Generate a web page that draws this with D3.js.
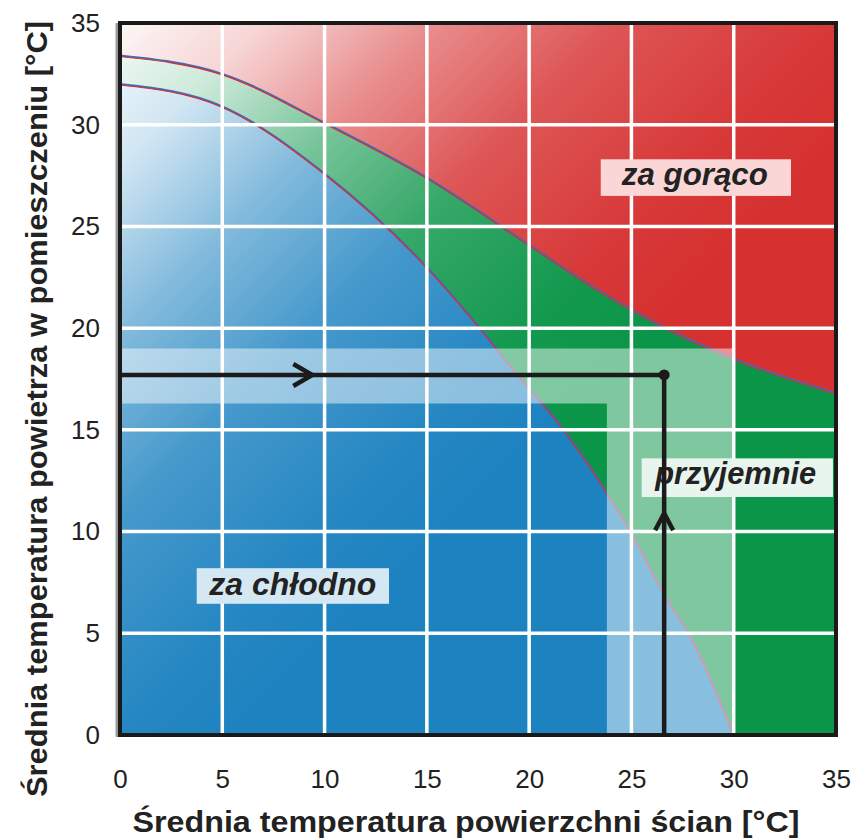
<!DOCTYPE html>
<html>
<head>
<meta charset="utf-8">
<script src="https://cdn.jsdelivr.net/npm/d3@7"></script>
<style>
body{margin:0;background:#fff;}
text{font-family:"Liberation Sans Narrow","Arial Narrow","Liberation Sans",Arial,sans-serif;}
</style>
</head>
<body>
<svg id="canvas" width="852" height="838"></svg>
<script>
// axis ticks
const xTicks=[0,5,10,15,20,25,30,35];
const yTicks=[0,5,10,15,20,25,30,35];
// boundary hot / comfortable  (wall temp, air temp)
const upperX=[0,5,10,15,20,23.5,26.9,30,35];
const upperY=[33.4,32.5,30.1,27.4,24.1,21.8,19.9,18.5,16.8];
// boundary comfortable / cold
const lowerX=[0,5,10,15,17.6,19.2,21.7,24.9,26.8,27.8,30];
const lowerY=[32.0,30.9,27.6,23.0,20.0,18.0,15.0,10.1,6.6,5.0,0];
// highlighted band (L shape)
const bandAir=[16.3,19.0];
const bandWall=[23.8,30];
// example reading
const pointWall=26.6, pointAir=17.7;
const zoneNames=["za gorąco","przyjemnie","za chłodno"];

const canvas=d3.select("#canvas");
let x=d3.scaleLinear().domain([0,35]).range([120,836]);
let y=d3.scaleLinear().domain([0,35]).range([735,23]);

let upper=upperX.map((d,i)=>[d,upperY[i]]);
let lower=lowerX.map((d,i)=>[d,lowerY[i]]);

let defs=canvas.append("defs");
let grad=defs.append("linearGradient").attr("id","fade").attr("x1",0).attr("y1",0).attr("x2",1).attr("y2",1);
[[0,0.96],[0.1,0.8],[0.22,0.45],[0.35,0.18],[0.5,0.04],[0.6,0]].forEach(s=>{
  grad.append("stop").attr("offset",s[0]).attr("stop-color","#fff").attr("stop-opacity",s[1]);
});

let plot=canvas.append("g");
// red background = too hot
plot.append("rect").attr("x",x(0)).attr("y",y(35)).attr("width",x(35)-x(0)).attr("height",y(0)-y(35)).attr("fill","#d63030");
let area=d3.area().x(d=>x(d[0])).y0(y(0)).y1(d=>y(d[1])).curve(d3.curveMonotoneX);
plot.append("path").datum(upper).attr("d",area).attr("fill","#0a9548");
plot.append("path").datum(lower).attr("d",area).attr("fill","#1c82c0");

plot.append("rect").attr("x",x(0)).attr("y",y(35)).attr("width",x(35)-x(0)).attr("height",y(0)-y(35)).attr("fill","url(#fade)");

let line=d3.line().x(d=>x(d[0])).y(d=>y(d[1])).curve(d3.curveMonotoneX);
[upper,lower].forEach(c=>{
  plot.append("path").datum(c).attr("d",line).attr("fill","none").attr("stroke","#3a6ec0").attr("stroke-width",2);
  plot.append("path").datum(c).attr("d",line).attr("fill","none").attr("stroke","#e02a2a").attr("stroke-width",1.1).attr("transform","translate(0,1)");
});

let band=[[0,bandAir[1]],[bandWall[1],bandAir[1]],[bandWall[1],0],[bandWall[0],0],[bandWall[0],bandAir[0]],[0,bandAir[0]]];
plot.append("path").attr("d",d3.line().x(d=>x(d[0])).y(d=>y(d[1]))(band)+"Z").attr("fill","#fff").attr("fill-opacity",0.48);

// grid
plot.selectAll(".gx").data(xTicks.slice(1,-1)).enter().append("line").attr("x1",d=>x(d)).attr("x2",d=>x(d)).attr("y1",y(35)).attr("y2",y(0)).attr("stroke","#fff").attr("stroke-width",3.5);
plot.selectAll(".gy").data(yTicks.slice(1,-1)).enter().append("line").attr("y1",d=>y(d)).attr("y2",d=>y(d)).attr("x1",x(0)).attr("x2",x(35)).attr("stroke","#fff").attr("stroke-width",3.5);

// zone labels
let labels=[
  {t:zoneNames[0],x0:23.5,x1:32.8,y0:26.5,y1:28.3,tx:28.1,base:185,len:146,fill:"#fad6d6"},
  {t:zoneNames[1],x0:25.5,x1:34.85,y0:11.7,y1:13.6,tx:30.1,base:484,len:161,fill:"#e8f5ee"},
  {t:zoneNames[2],x0:3.75,x1:13.15,y0:6.45,y1:8.2,tx:8.45,base:595,len:167,fill:"#d4e8f3"}
];
labels.forEach(l=>{
  plot.append("rect").attr("x",x(l.x0)).attr("y",y(l.y1)).attr("width",x(l.x1)-x(l.x0)).attr("height",y(l.y0)-y(l.y1)).attr("fill",l.fill);
  plot.append("text").attr("x",x(l.tx)).attr("y",l.base).attr("text-anchor","middle")
    .style("font-family","'Liberation Sans',Arial,sans-serif").style("font-weight","bold").style("font-style","italic").style("font-size","32px")
    .attr("fill","#222").attr("textLength",l.len).attr("lengthAdjust","spacingAndGlyphs").text(l.t);
});

// reading lines
let ink="#1c1a1a";
plot.append("path").attr("d",`M${x(0)},${y(pointAir)}H${x(pointWall)}V${y(0)+2}`).attr("fill","none").attr("stroke",ink).attr("stroke-width",4.5);
plot.append("circle").attr("cx",x(pointWall)).attr("cy",y(pointAir)).attr("r",5.5).attr("fill",ink);
let ax=x(9.4), ay=y(10.9);
plot.append("path").attr("d",`M${ax-19},${y(pointAir)-11}L${ax},${y(pointAir)}L${ax-19},${y(pointAir)+11}`).attr("fill","none").attr("stroke",ink).attr("stroke-width",4.5);
plot.append("path").attr("d",`M${x(pointWall)-9},${ay+17}L${x(pointWall)},${ay}L${x(pointWall)+9},${ay+17}`).attr("fill","none").attr("stroke",ink).attr("stroke-width",4.5);

// frame
canvas.append("line").attr("x1",117).attr("x2",117).attr("y1",y(35)).attr("y2",y(0)+2).attr("stroke","#9a9a9a").attr("stroke-width",3);
canvas.append("rect").attr("x",x(0)).attr("y",y(35)).attr("width",x(35)-x(0)).attr("height",y(0)-y(35)).attr("fill","none").attr("stroke","#1a1a1a").attr("stroke-width",4);

// axes
let xAxis=d3.axisBottom(x).tickValues(xTicks).tickSize(0).tickPadding(35);
let yAxis=d3.axisLeft(y).tickValues(yTicks).tickSize(0).tickPadding(20);
let gx=canvas.append("g").attr("transform","translate(0,"+y(0)+")").call(xAxis);
let gy=canvas.append("g").attr("transform","translate("+x(0)+",0)").call(yAxis);
[gx,gy].forEach(g=>{g.select(".domain").remove();g.selectAll("text").style("font-family","'Liberation Sans Narrow','Arial Narrow','Liberation Sans',sans-serif").style("font-size","26px").attr("fill","#222");});

canvas.append("text").attr("x",466).attr("y",832).attr("text-anchor","middle").style("font-weight","bold").style("font-size","30px").attr("fill","#222")
  .attr("textLength",667).attr("lengthAdjust","spacingAndGlyphs").text("Średnia temperatura powierzchni ścian [°C]");
canvas.append("text").attr("transform","translate(47,409) rotate(-90)").attr("text-anchor","middle").style("font-weight","bold").style("font-size","30px").attr("fill","#222")
  .attr("textLength",776).attr("lengthAdjust","spacingAndGlyphs").text("Średnia temperatura powietrza w pomieszczeniu [°C]");
</script>
</body>
</html>
